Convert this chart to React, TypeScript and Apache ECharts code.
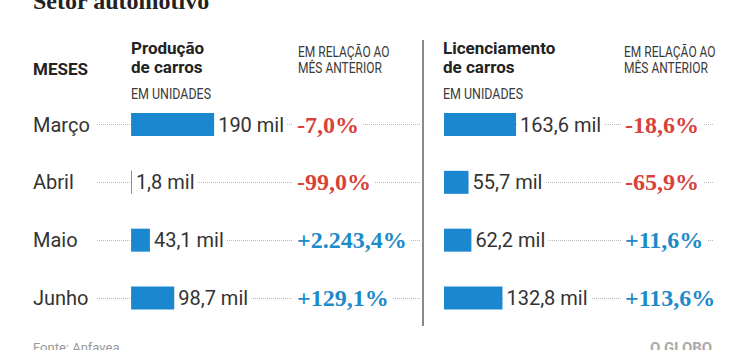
import React, { useEffect, useRef } from "react";
import * as echarts from "echarts";

const months = ["Março", "Abril", "Maio", "Junho"];
const producao = [190, 1.8, 43.1, 98.7];
const producaoLabels = ["190 mil", "1,8 mil", "43,1 mil", "98,7 mil"];
const producaoVar = ["-7,0%", "-99,0%", "+2.243,4%", "+129,1%"];
const licenciamento = [163.6, 55.7, 62.2, 132.8];
const licenciamentoLabels = ["163,6 mil", "55,7 mil", "62,2 mil", "132,8 mil"];
const licenciamentoVar = ["-18,6%", "-65,9%", "+11,6%", "+113,6%"];

const BLUE = "#1b87cf";
const RED = "#d7423b";
const PCT_BLUE = "#1e8ac8";
const SANS = "Roboto, 'Noto Sans', sans-serif";
const SERIF = "'Liberation Serif', serif";

export default function App() {
  const ref = useRef<HTMLDivElement>(null);
  useEffect(() => {
    if (!ref.current) return;
    const chart = echarts.init(ref.current, null, { renderer: "svg" });
    const splitDots = { show: true, lineStyle: { color: "#b8b8b8", type: "dotted", width: 1 } };
    const pctLabel = {
      show: true,
      interval: 0,
      margin: 0,
      align: "left",
      backgroundColor: "#fff",
      padding: [0, 4, 0, 4],
      formatter: (v: string) => (v.startsWith("-") ? `{n|${v}}` : `{p|${v}}`),
      rich: {
        n: { color: RED, fontFamily: SERIF, fontSize: 24, fontWeight: "bold" },
        p: { color: PCT_BLUE, fontFamily: SERIF, fontSize: 24, fontWeight: "bold" },
      },
    };
    const hidden = { axisLine: { show: false }, axisTick: { show: false } };
    const caption = (x: number, y: number, text: string, sx: number) => ({
      type: "text", x, y, scaleX: sx, originX: 0,
      style: { x: 0, y: 0, text, font: `15px ${SANS}`, lineHeight: 16, fill: "#3a3a3a", textVerticalAlign: "middle" },
    });
    chart.setOption({
      animation: false,
      grid: [
        { left: 97, top: 124.5, width: 323, height: 173.5 },
        { left: 444, top: 124.5, width: 269, height: 173.5 },
      ],
      xAxis: [
        { type: "value", gridIndex: 0, min: -78, max: 661, show: false },
        { type: "value", gridIndex: 1, min: 0, max: 611, show: false },
      ],
      yAxis: [
        {
          type: "category", gridIndex: 0, data: months, inverse: true, boundaryGap: false,
          ...hidden, splitLine: splitDots,
          axisLabel: { interval: 0, margin: 64, align: "left", color: "#333", fontFamily: SANS, fontSize: 20 },
        },
        {
          type: "category", gridIndex: 0, data: producaoVar, inverse: true, boundaryGap: false,
          position: "left", offset: -196, ...hidden, splitLine: { show: false }, axisLabel: pctLabel, z: 5,
        },
        {
          type: "category", gridIndex: 1, data: months, inverse: true, boundaryGap: false,
          ...hidden, splitLine: splitDots, axisLabel: { show: false },
        },
        {
          type: "category", gridIndex: 1, data: licenciamentoVar, inverse: true, boundaryGap: false,
          position: "left", offset: -177, ...hidden, splitLine: { show: false }, axisLabel: pctLabel, z: 5,
        },
      ],
      series: [
        {
          type: "bar", xAxisIndex: 0, yAxisIndex: 0, data: producao, barWidth: 23, z: 3,
          itemStyle: { color: BLUE },
          label: {
            show: true, position: "right", distance: 1, color: "#333", fontFamily: SANS, fontSize: 20,
            backgroundColor: "#fff", padding: [0, 3, 0, 3],
            formatter: (p: any) => producaoLabels[p.dataIndex],
          },
        },
        {
          type: "bar", xAxisIndex: 1, yAxisIndex: 2, data: licenciamento, barWidth: 23, z: 3,
          itemStyle: { color: BLUE },
          label: {
            show: true, position: "right", distance: 1, color: "#333", fontFamily: SANS, fontSize: 20,
            backgroundColor: "#fff", padding: [0, 3, 0, 3],
            formatter: (p: any) => licenciamentoLabels[p.dataIndex],
          },
        },
      ],
      graphic: [
        { type: "text", style: { x: 33, y: 13, text: "Setor automotivo", font: "bold 24px 'Liberation Serif', serif", fill: "#222", textVerticalAlign: "bottom" } },
        { type: "text", style: { x: 33, y: 69, text: "MESES", font: `bold 17px ${SANS}`, fill: "#222", textVerticalAlign: "middle" } },
        { type: "text", style: { x: 131, y: 57.5, text: "Produção\nde carros", font: `bold 17px ${SANS}`, lineHeight: 19, fill: "#222", textVerticalAlign: "middle" } },
        caption(298, 59, "EM RELAÇÃO AO\nMÊS ANTERIOR", 0.8),
        caption(131, 94, "EM UNIDADES", 0.83),
        { type: "text", style: { x: 443, y: 57.5, text: "Licenciamento\nde carros", font: `bold 17px ${SANS}`, lineHeight: 19, fill: "#222", textVerticalAlign: "middle" } },
        caption(624, 59, "EM RELAÇÃO AO\nMÊS ANTERIOR", 0.8),
        caption(443, 94, "EM UNIDADES", 0.83),
        { type: "line", shape: { x1: 423, y1: 40, x2: 423, y2: 326 }, style: { stroke: "#8a8a8a", lineWidth: 2 } },
        { type: "text", style: { x: 33, y: 347, text: "Fonte: Anfavea", font: `13px ${SANS}`, fill: "#999", textVerticalAlign: "middle" } },
        { type: "text", style: { x: 650, y: 348, text: "O GLOBO", font: `bold 15px ${SANS}`, fill: "#aaa", textVerticalAlign: "middle" } },
      ],
    });
    return () => chart.dispose();
  }, []);
  return <div ref={ref} style={{ position: "fixed", left: 0, top: 0, width: 750, height: 350, background: "#fff" }} />;
}
